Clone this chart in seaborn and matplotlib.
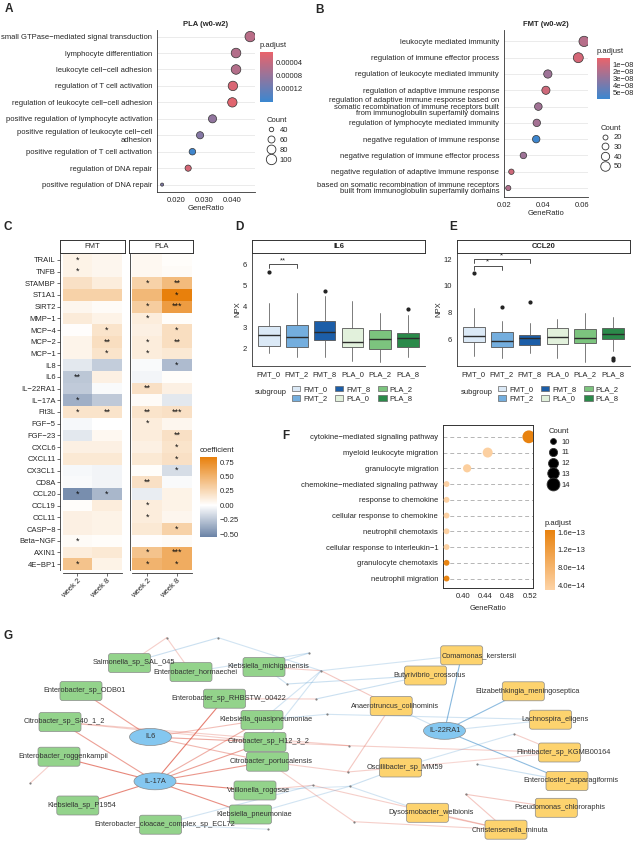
import numpy as np
import pandas as pd
import matplotlib
matplotlib.use("Agg")
import matplotlib.pyplot as plt
from matplotlib.colors import LinearSegmentedColormap, Normalize
from matplotlib.cm import ScalarMappable
from matplotlib.lines import Line2D
from matplotlib.patches import FancyBboxPatch, Ellipse, Patch
import seaborn as sns

sns.set_theme(style="white")
plt.rcParams["font.family"] = ["Liberation Sans", "DejaVu Sans"]
plt.rcParams["font.size"] = 5.5
FS = 5.5
DARK = "#333333"

# ==========================================
# DATA
# ==========================================
# A - PLA (w0-w2)
a_terms = ["small GTPase\u2212mediated signal transduction", "lymphocyte differentiation",
           "leukocyte cell\u2212cell adhesion", "regulation of T cell activation",
           "regulation of leukocyte cell\u2212cell adhesion", "positive regulation of lymphocyte activation",
           "positive regulation of leukocyte cell\u2212cell\nadhesion", "positive regulation of T cell activation",
           "regulation of DNA repair", "positive regulation of DNA repair"]
a_ratio = [0.0463, 0.0413, 0.0413, 0.0402, 0.0400, 0.0330, 0.0286, 0.0259, 0.0244, 0.0152]
a_count = [101, 90, 90, 88, 87, 72, 62, 56, 53, 33]
a_padj = [5.0e-5, 5.5e-5, 5.5e-5, 2.2e-5, 1.5e-5, 8.5e-5, 9.5e-5, 1.55e-4, 2.5e-5, 1.0e-4]

# B - FMT (w0-w2)
b_terms = ["leukocyte mediated immunity", "regulation of immune effector process",
           "regulation of leukocyte mediated immunity", "regulation of adaptive immune response",
           "regulation of adaptive immune response based on\nsomatic recombination of immune receptors built\nfrom immunoglobulin superfamily domains",
           "regulation of lymphocyte mediated immunity", "negative regulation of immune response",
           "negative regulation of immune effector process", "negative regulation of adaptive immune response",
           "based on somatic recombination of immune receptors\nbuilt from immunoglobulin superfamily domains"]
b_ratio = [0.0612, 0.0582, 0.0425, 0.0415, 0.0376, 0.0368, 0.0365, 0.0299, 0.0237, 0.0221]
b_count = [57, 54, 40, 39, 35, 34, 34, 28, 22, 21]
b_padj = [1.8e-8, 0.8e-8, 2.6e-8, 1.0e-8, 2.5e-8, 2.4e-8, 5.8e-8, 2.6e-8, 1.0e-8, 2.0e-8]

# C - coefficient heatmap
hm_rows = ["TRAIL", "TNFB", "STAMBP", "ST1A1", "SIRT2", "MMP\u22121", "MCP\u22124", "MCP\u22122", "MCP\u22121",
           "IL8", "IL6", "IL\u221222RA1", "IL\u221217A", "Flt3L", "FGF\u22125", "FGF\u221223", "CXCL6", "CXCL11",
           "CX3CL1", "CD8A", "CCL20", "CCL19", "CCL11", "CASP\u22128", "Beta\u2212NGF", "AXIN1", "4E\u2212BP1"]
weeks = ["week 2", "week 8"]
fmt_w2 = [0.08, 0.08, 0.20, 0.30, 0.06, 0.13, 0.01, 0.07, 0.07, -0.10, -0.25, -0.23, -0.35, 0.18, -0.03,
          -0.10, 0.10, 0.15, -0.03, -0.02, -0.50, 0.02, 0.10, 0.10, 0.03, 0.12, 0.40]
fmt_w8 = [0.06, 0.06, 0.12, 0.30, 0.03, 0.08, 0.18, 0.22, 0.18, -0.22, 0.10, -0.02, -0.24, 0.18, 0.00,
          0.05, 0.10, 0.15, -0.05, -0.05, -0.32, 0.12, 0.08, 0.08, 0.02, 0.15, 0.08]
pla_w2 = [0.05, 0.05, 0.30, 0.47, 0.33, 0.12, 0.10, 0.12, 0.12, -0.02, -0.04, 0.20, 0.03, 0.18, 0.12,
          0.12, 0.10, 0.15, 0.02, 0.20, -0.08, 0.12, 0.12, 0.15, 0.01, 0.40, 0.50]
pla_w8 = [0.02, 0.03, 0.45, 0.85, 0.65, 0.02, 0.22, 0.22, 0.15, -0.30, 0.02, 0.10, -0.10, 0.20, 0.06,
          0.20, 0.18, 0.20, -0.15, -0.02, 0.08, 0.08, 0.06, 0.30, 0.03, 0.55, 0.55]
fmt_w2_sig = ["*", "*", "", "", "", "", "", "", "", "", "**", "", "*", "*", "", "", "", "", "", "", "*",
              "", "", "", "*", "", "*"]
fmt_w8_sig = ["", "", "", "", "", "", "*", "**", "*", "", "", "", "", "**", "", "", "", "", "", "", "*",
              "", "", "", "", "", ""]
pla_w2_sig = ["", "", "*", "", "*", "*", "", "*", "*", "", "", "**", "", "**", "*", "", "", "", "", "**", "",
              "*", "*", "", "", "*", "*"]
pla_w8_sig = ["", "", "**", "*", "***", "", "*", "**", "", "*", "", "", "", "***", "", "**", "*", "*", "*",
              "", "", "", "", "*", "", "***", "*"]

# D / E - boxplots
subgroups = ["FMT_0", "FMT_2", "FMT_8", "PLA_0", "PLA_2", "PLA_8"]
box_colors = ["#dbe9f6", "#74aede", "#1c5ea8", "#e2f1dc", "#7cc47e", "#2b8a4a"]
il6_q1 = [2.15, 2.10, 2.43, 2.08, 2.00, 2.08]
il6_med = [2.68, 2.58, 2.80, 2.32, 2.47, 2.50]
il6_q3 = [3.10, 3.12, 3.33, 3.00, 2.92, 2.78]
il6_lo = [1.80, 1.60, 1.60, 1.45, 1.40, 1.60]
il6_hi = [4.20, 4.65, 4.50, 4.30, 3.73, 3.60]
il6_out = [[5.65], [], [4.75], [], [], [3.90]]
ccl20_q1 = [5.88, 5.46, 5.63, 5.68, 5.80, 6.07]
ccl20_med = [6.30, 5.93, 6.15, 6.25, 6.12, 6.42]
ccl20_q3 = [6.98, 6.57, 6.37, 6.86, 6.79, 6.86]
ccl20_lo = [4.84, 4.70, 5.00, 4.64, 4.40, 5.19]
ccl20_hi = [8.35, 7.40, 7.23, 7.55, 7.98, 7.68]
ccl20_out = [[11.0], [8.47], [8.85], [], [], [4.64, 4.55]]

# F - enrichment
f_terms = ["cytokine\u2212mediated signaling pathway", "myeloid leukocyte migration", "granulocyte migration",
           "chemokine\u2212mediated signaling pathway", "response to chemokine", "cellular response to chemokine",
           "neutrophil chemotaxis", "cellular response to interleukin\u22121", "granulocyte chemotaxis",
           "neutrophil migration"]
f_count = [14, 12, 11, 10, 10, 10, 10, 10, 10, 10]
f_ratio = [c / 27 for c in f_count]
f_padj = [1.65e-13, 3.4e-14, 3.6e-14, 3.2e-14, 3.2e-14, 3.2e-14, 3.2e-14, 3.3e-14, 1.6e-13, 1.6e-13]

# G - network
net_nodes = ["IL6", "IL-17A", "IL-22RA1",
             "Salmonella_sp_SAL_045", "Enterobacter_hormaechei", "Klebsiella_michiganensis",
             "Enterobacter_sp_ODB01", "Enterobacter_sp_RHBSTW_00422", "Citrobacter_sp_S40_1_2",
             "Klebsiella_quasipneumoniae", "Citrobacter_sp_H12_3_2", "Enterobacter_roggenkampii",
             "Citrobacter_portucalensis", "Veillonella_rogosae", "Klebsiella_sp_P1954",
             "Klebsiella_pneumoniae", "Enterobacter_cloacae_complex_sp_ECL72",
             "Comamonas_kerstersii", "Butyrivibrio_crossotus", "Elizabethkingia_meningoseptica",
             "Anaerotruncus_colihominis", "Lachnospira_eligens", "Flintibacter_sp_KGMB00164",
             "Oscillibacter_sp_MM59", "Enterocloster_asparagiformis", "Pseudomonas_chlororaphis",
             "Dysosmobacter_welbionis", "Christensenella_minuta",
             "d1", "d2", "d3", "d4", "d5", "d6", "d7", "d8", "d9", "d10", "d11", "d12", "d13", "d14",
             "d15", "d16", "d17"]
net_x = [150.5, 155, 444.5,
         129.5, 191, 264, 81, 224.5, 60, 262, 265, 59, 267.5, 255, 77.8, 250.5, 160.5,
         461.7, 425.5, 523.3, 391.2, 550.5, 559.5, 400.5, 567, 556.3, 427.5, 506,
         166.7, 218.3, 309.3, 287, 316, 30, 312.5, 268.3, 321, 326.7, 349, 347.5, 349.5, 354,
         514.3, 477.3, 465.7]
net_y = [737, 781.3, 730.8,
         663, 672, 667, 691, 698.7, 722, 720, 742, 756.7, 761.7, 790.5, 805.5, 814.5, 824.7,
         655.3, 675.5, 691.3, 706, 719.7, 752.5, 767.5, 781, 807.8, 812.8, 829.7,
         637.7, 637.7, 653, 684, 699, 783.3, 785.3, 829.2, 670.7, 714.3, 745.7, 772, 786.3, 821.7,
         734, 764.3, 794.3]
net_kind = ["cyto"] * 3 + ["green"] * 14 + ["yellow"] * 11 + ["dot"] * 17
net_label_dx = [0, 0, 0] + [4] * 14 + [17] + [4] * 10 + [0] * 17
net_edges = [
    ("IL-17A", "Enterobacter_roggenkampii", "r", 0.75), ("IL-17A", "Citrobacter_sp_S40_1_2", "r", 0.6),
    ("IL-17A", "Klebsiella_sp_P1954", "r", 0.75), ("IL-17A", "Enterobacter_sp_RHBSTW_00422", "r", 0.8),
    ("IL-17A", "Klebsiella_quasipneumoniae", "r", 0.5), ("IL-17A", "Citrobacter_sp_H12_3_2", "r", 0.6),
    ("IL-17A", "Citrobacter_portucalensis", "r", 0.65), ("IL-17A", "Veillonella_rogosae", "r", 0.75),
    ("IL-17A", "Klebsiella_pneumoniae", "r", 0.7),
    ("IL6", "Enterobacter_sp_ODB01", "r", 0.6), ("IL6", "Klebsiella_quasipneumoniae", "r", 0.4),
    ("IL6", "Citrobacter_sp_H12_3_2", "r", 0.55), ("IL6", "Citrobacter_portucalensis", "r", 0.45),
    ("IL-22RA1", "Comamonas_kerstersii", "b", 0.8), ("IL-22RA1", "Elizabethkingia_meningoseptica", "b", 0.75),
    ("IL-22RA1", "Enterocloster_asparagiformis", "b", 0.75), ("IL-22RA1", "Lachnospira_eligens", "b", 0.3),
    ("IL-22RA1", "Anaerotruncus_colihominis", "b", 0.3),
    ("Citrobacter_sp_S40_1_2", "d11", "r", 0.3), ("Citrobacter_sp_S40_1_2", "Citrobacter_sp_H12_3_2", "r", 0.3),
    ("Enterobacter_roggenkampii", "d6", "r", 0.3), ("Salmonella_sp_SAL_045", "d1", "r", 0.3),
    ("d1", "Enterobacter_hormaechei", "r", 0.3), ("Salmonella_sp_SAL_045", "d2", "b", 0.35),
    ("d2", "d9", "b", 0.3), ("Enterobacter_hormaechei", "d3", "b", 0.3),
    ("Klebsiella_michiganensis", "d3", "b", 0.3), ("Klebsiella_michiganensis", "d9", "r", 0.3),
    ("Klebsiella_michiganensis", "d4", "b", 0.3), ("d4", "Butyrivibrio_crossotus", "b", 0.35),
    ("Enterobacter_sp_RHBSTW_00422", "d5", "r", 0.3), ("d5", "Butyrivibrio_crossotus", "b", 0.35),
    ("d9", "Anaerotruncus_colihominis", "r", 0.35), ("d9", "Comamonas_kerstersii", "b", 0.3),
    ("Klebsiella_quasipneumoniae", "d9", "b", 0.3), ("Citrobacter_sp_H12_3_2", "d9", "b", 0.3),
    ("Klebsiella_quasipneumoniae", "d10", "b", 0.3), ("d10", "Lachnospira_eligens", "b", 0.3),
    ("Citrobacter_sp_H12_3_2", "d11", "r", 0.3), ("d11", "Flintibacter_sp_KGMB00164", "r", 0.3),
    ("Citrobacter_portucalensis", "d12", "r", 0.3), ("d12", "Anaerotruncus_colihominis", "r", 0.35),
    ("d12", "Oscillibacter_sp_MM59", "r", 0.3), ("Oscillibacter_sp_MM59", "Flintibacter_sp_KGMB00164", "r", 0.25),
    ("Oscillibacter_sp_MM59", "d15", "b", 0.3), ("d15", "Flintibacter_sp_KGMB00164", "r", 0.3),
    ("Veillonella_rogosae", "d7", "r", 0.3), ("d7", "Christensenella_minuta", "r", 0.3),
    ("d13", "Oscillibacter_sp_MM59", "b", 0.35), ("Klebsiella_pneumoniae", "d13", "b", 0.3),
    ("d13", "Dysosmobacter_welbionis", "b", 0.3), ("Citrobacter_portucalensis", "d14", "r", 0.3),
    ("d14", "Christensenella_minuta", "r", 0.3), ("Dysosmobacter_welbionis", "Christensenella_minuta", "r", 0.35),
    ("d16", "Enterocloster_asparagiformis", "b", 0.35), ("d17", "Pseudomonas_chlororaphis", "r", 0.35),
    ("d17", "Christensenella_minuta", "r", 0.35), ("Enterobacter_cloacae_complex_sp_ECL72", "d7", "b", 0.3),
    ("Enterobacter_cloacae_complex_sp_ECL72", "d8", "b", 0.25), ("Veillonella_rogosae", "d13", "b", 0.25),
]

# ==========================================
# FIGURE HELPERS (pixel based layout)
# ==========================================
W, H = 633, 841
fig = plt.figure(figsize=(W / 100, H / 100), dpi=100)


def px_axes(l, t, r, b):
    return fig.add_axes([l / W, 1 - b / H, (r - l) / W, (b - t) / H])


def panel_label(x, y, s):
    fig.text(x / W, 1 - y / H, s, fontsize=8.5, fontweight="bold", ha="center", va="center")


def colorbar(rect, cmap, norm, ticks, labels, title, reverse):
    cax = px_axes(*rect)
    cb = fig.colorbar(ScalarMappable(norm=norm, cmap=cmap), cax=cax)
    cb.outline.set_visible(False)
    cb.set_ticks(ticks, labels=labels)
    cax.tick_params(length=0, labelsize=FS, pad=2)
    if reverse:
        cax.invert_yaxis()
    fig.text(rect[0] / W, 1 - (rect[1] - 3) / H, title, fontsize=FS, va="bottom")


def size_legend(values, sizes, snorm, x, y, face="white", spacing=0.35):
    lo, hi = snorm
    handles = []
    for v in values:
        s = sizes[0] + (v - lo) / (hi - lo) * (sizes[1] - sizes[0])
        handles.append(Line2D([], [], ls="", marker="o", markersize=np.sqrt(s),
                              mfc=face, mec=DARK, mew=0.6))
    fig.legend(handles, [str(v) for v in values], title="Count", loc="upper left",
               bbox_to_anchor=(x / W, 1 - y / H), frameon=False, fontsize=FS, title_fontsize=FS,
               borderpad=0, labelspacing=spacing, handletextpad=0.5, alignment="left",
               handlelength=1.2)


def dot_panel(ax, terms, ratio, count, padj, cmap, cnorm, sizes, snorm, edge=DARK):
    df = pd.DataFrame({"term": terms, "GeneRatio": ratio, "Count": count, "p.adjust": padj})
    df["row"] = np.arange(len(df))
    sns.scatterplot(data=df, x="GeneRatio", y="row", hue="p.adjust", size="Count",
                    palette=cmap, hue_norm=cnorm, sizes=sizes, size_norm=snorm,
                    edgecolor=edge, linewidth=0.5, legend=False, ax=ax, zorder=3)
    ax.set_yticks(df["row"], df["term"])
    ax.set_ylabel("")
    ax.tick_params(axis="both", labelsize=FS, length=2, width=0.5, color=DARK, pad=1.5)
    ax.set_xlabel("GeneRatio", fontsize=FS, labelpad=1)
    return df


def classic(ax):
    for s in ["top", "right"]:
        ax.spines[s].set_visible(False)
    for s in ["left", "bottom"]:
        ax.spines[s].set_color(DARK)
        ax.spines[s].set_linewidth(0.6)


# ==========================================
# A
# ==========================================
rb_cmap = LinearSegmentedColormap.from_list("rb", ["#e9636b", "#3b87d0"])
ax_a = px_axes(157, 30, 255, 192)
a_norm = Normalize(8e-6, 1.6e-4)
dot_panel(ax_a, a_terms, a_ratio, a_count, a_padj, rb_cmap, a_norm, (5, 56), (33, 101))
for r in range(len(a_terms)):
    ax_a.axhline(r, color="#ebebeb", lw=0.7, zorder=0)
ax_a.set_xlim(0.0134, 0.048)
ax_a.set_ylim(9.45, -0.4)
ax_a.set_xticks([0.02, 0.03, 0.04], ["0.020", "0.030", "0.040"])
ax_a.set_title("PLA (w0-w2)", fontsize=FS, fontweight="bold", pad=3)
classic(ax_a)
colorbar((260, 52, 273, 102), rb_cmap, a_norm, [4e-5, 8e-5, 1.2e-4],
         ["0.00004", "0.00008", "0.00012"], "p.adjust", True)
size_legend([40, 60, 80, 100], (5, 56), (33, 101), 263, 113)

# ==========================================
# B
# ==========================================
ax_b = px_axes(504, 30, 588, 197)
b_norm = Normalize(1e-9, 5.9e-8)
dot_panel(ax_b, b_terms, b_ratio, b_count, b_padj, rb_cmap, b_norm, (14, 55), (21, 57))
for r in range(len(b_terms)):
    ax_b.axhline(r, color="#ebebeb", lw=0.7, zorder=0)
ax_b.set_xlim(0.0199, 0.0632)
ax_b.set_ylim(9.55, -0.7)
ax_b.set_xticks([0.02, 0.04, 0.06], ["0.02", "0.04", "0.06"])
ax_b.set_title("FMT (w0-w2)", fontsize=FS, fontweight="bold", pad=3)
for lab in ax_b.get_yticklabels():
    lab.set_linespacing(0.85)
classic(ax_b)
colorbar((597, 58, 610, 99), rb_cmap, b_norm, [1e-8, 2e-8, 3e-8, 4e-8, 5e-8],
         ["1e\u221208", "2e\u221208", "3e\u221208", "4e\u221208", "5e\u221208"], "p.adjust", True)
size_legend([20, 30, 40, 50], (14, 55), (21, 57), 597, 121, spacing=0.3)

# ==========================================
# C
# ==========================================
coef_cmap = LinearSegmentedColormap.from_list(
    "coef", [(0, "#6b83a6"), (0.396, "#ffffff"), (1, "#e8800c")])
vmin, vmax = -0.55, 0.84
facets = [("FMT", fmt_w2, fmt_w8, fmt_w2_sig, fmt_w8_sig, 62.7, 121.7, 60, 125),
          ("PLA", pla_w2, pla_w8, pla_w2_sig, pla_w8_sig, 132.3, 191.7, 129.3, 193.3)]
for i, (name, w2, w8, s2, s8, l, r, sl, sr) in enumerate(facets):
    ax = px_axes(l, 254, r, 570)
    vals = pd.DataFrame({weeks[0]: w2, weeks[1]: w8}, index=hm_rows)
    stars = np.array([s2, s8]).T
    sns.heatmap(vals, cmap=coef_cmap, vmin=vmin, vmax=vmax, annot=stars, fmt="", cbar=False,
                xticklabels=True, yticklabels=(i == 0), ax=ax,
                annot_kws={"size": 6.5, "color": "#111111"})
    for s in ["left", "bottom"]:
        ax.spines[s].set_visible(True)
        ax.spines[s].set_color(DARK)
        ax.spines[s].set_linewidth(0.6)
        ax.spines[s].set_position(("outward", 2))
    ax.set_xticklabels(weeks, rotation=45, ha="right", rotation_mode="anchor", fontsize=FS)
    ax.tick_params(axis="x", length=2, width=0.5, color=DARK, pad=1, bottom=True)
    if i == 0:
        ax.set_yticklabels(hm_rows, rotation=0, fontsize=FS)
        ax.tick_params(axis="y", length=2, width=0.5, color=DARK, pad=1, left=True)
    else:
        ax.set_yticks([])
    ax.set_xlabel("")
    ax.set_ylabel("")
    st = px_axes(sl, 240, sr, 253)
    st.set_xticks([])
    st.set_yticks([])
    for sp in st.spines.values():
        sp.set_color(DARK)
        sp.set_linewidth(0.7)
    st.text(0.5, 0.5, name, ha="center", va="center", fontsize=FS, transform=st.transAxes)
colorbar((200, 457, 217, 537), coef_cmap, Normalize(vmin, vmax),
         [0.75, 0.5, 0.25, 0.0, -0.25, -0.5],
         ["0.75", "0.50", "0.25", "0.00", "\u22120.25", "\u22120.50"], "coefficient", False)


# ==========================================
# D / E  boxplots
# ==========================================
def box_panel(ax, q1, med, q3, lo, hi, out):
    stats = [dict(q1=a, med=m, q3=b, whislo=w0, whishi=w1, fliers=f)
             for a, m, b, w0, w1, f in zip(q1, med, q3, lo, hi, out)]
    bp = ax.bxp(stats, positions=range(len(stats)), widths=0.78, patch_artist=True, showcaps=False,
                boxprops=dict(edgecolor="#555555", linewidth=0.6),
                medianprops=dict(color="#2b2b2b", linewidth=1.0),
                whiskerprops=dict(color="#666666", linewidth=0.6),
                flierprops=dict(marker="o", markersize=2.0, markerfacecolor="#222222",
                                markeredgecolor="#222222"))
    for patch, c in zip(bp["boxes"], box_colors):
        patch.set_facecolor(c)
    ax.set_xticks(range(len(subgroups)), subgroups)
    ax.set_xlim(-0.6, 5.6)
    ax.tick_params(axis="both", labelsize=FS, length=2, width=0.5, color=DARK, pad=1.5)
    ax.set_ylabel("NPX", fontsize=FS, labelpad=1)
    classic(ax)


def bracket(ax, x1, x2, y, h, label):
    ax.plot([x1, x1, x2, x2], [y - h, y, y, y - h], color=DARK, lw=0.6)
    ax.text((x1 + x2) / 2, y, label, ha="center", va="bottom", fontsize=FS)


def strip(l, r, title):
    st = px_axes(l, 240, r, 253)
    st.set_xticks([])
    st.set_yticks([])
    for sp in st.spines.values():
        sp.set_color(DARK)
        sp.set_linewidth(0.7)
    st.text(0.5, 0.5, title, ha="center", va="center", fontsize=FS, fontweight="bold",
            transform=st.transAxes)


def box_legend(x_title, x_keys):
    fig.text(x_title / W, 1 - 392.5 / H, "subgroup", fontsize=FS, va="center")
    handles = [Patch(facecolor=c, edgecolor="#666666", linewidth=0.5) for c in box_colors]
    fig.legend(handles, subgroups, ncol=3, loc="upper left", bbox_to_anchor=(x_keys / W, 1 - 382 / H),
               frameon=False, fontsize=FS, borderpad=0, labelspacing=0.25, handlelength=1.1,
               handleheight=0.75, handletextpad=0.4, columnspacing=1.0)


ax_d = px_axes(252, 253, 425, 366)
box_panel(ax_d, il6_q1, il6_med, il6_q3, il6_lo, il6_hi, il6_out)
ax_d.set_ylim(1.19, 6.57)
ax_d.set_yticks([2, 3, 4, 5, 6])
bracket(ax_d, 0, 1, 6.05, 0.2, "**")
strip(252, 425, "IL6")
box_legend(255, 288)

ax_e = px_axes(457, 252, 630, 366)
box_panel(ax_e, ccl20_q1, ccl20_med, ccl20_q3, ccl20_lo, ccl20_hi, ccl20_out)
ax_e.set_ylim(4.07, 12.52)
ax_e.set_yticks([6, 8, 10, 12])
bracket(ax_e, 0, 1, 11.5, 0.3, "*")
bracket(ax_e, 0, 2, 12.0, 0.3, "*")
strip(457, 630, "CCL20")
box_legend(461, 494)

# ==========================================
# F
# ==========================================
or_cmap = LinearSegmentedColormap.from_list("or", ["#fdd3a6", "#e8820e"])
f_norm = Normalize(2.9e-14, 1.65e-13)
ax_f = px_axes(443, 425, 533, 588)
dot_panel(ax_f, f_terms, f_ratio, f_count, f_padj, or_cmap, f_norm, (18, 85), (10, 14), edge="none")
for r in range(len(f_terms)):
    ax_f.axhline(r, color="#b5b5b5", lw=0.7, ls=(0, (4, 3)), zorder=0)
ax_f.set_xlim(0.364, 0.526)
ax_f.set_ylim(9.6, -0.75)
ax_f.set_xticks([0.40, 0.44, 0.48, 0.52], ["0.40", "0.44", "0.48", "0.52"])
ax_f.xaxis.labelpad = 4
for sp in ax_f.spines.values():
    sp.set_color(DARK)
    sp.set_linewidth(0.7)
size_legend([10, 11, 12, 13, 14], (18, 85), (10, 14), 545, 424, face="black", spacing=0.45)
colorbar((545, 530, 555, 590), or_cmap, f_norm, [1.6e-13, 1.2e-13, 8.0e-14, 4.0e-14],
         ["1.6e\u221213", "1.2e\u221213", "8.0e\u221214", "4.0e\u221214"], "p.adjust", False)

# ==========================================
# G  network
# ==========================================
ax_g = px_axes(0, 630, 633, 841)
ax_g.set_xlim(0, W)
ax_g.set_ylim(841, 630)
ax_g.axis("off")
pos = {n: (x, y) for n, x, y in zip(net_nodes, net_x, net_y)}
edge_col = {"r": "#e0604f", "b": "#6aa7d6"}
for src, dst, sign, alpha in net_edges:
    (x0, y0), (x1, y1) = pos[src], pos[dst]
    ax_g.plot([x0, x1], [y0, y1], color=edge_col[sign], alpha=alpha, lw=0.8, zorder=1)

node_fill = {"green": "#93d38b", "yellow": "#fdd36e"}
for n, x, y, kind, dx in zip(net_nodes, net_x, net_y, net_kind, net_label_dx):
    if kind == "dot":
        ax_g.scatter([x], [y], s=2.5, color="#808080", zorder=2, linewidths=0)
    elif kind == "cyto":
        ax_g.add_patch(Ellipse((x, y), 42, 17, facecolor="#84c7f0", edgecolor="#8a8a8a", lw=0.5, zorder=3))
        ax_g.text(x, y, n, ha="center", va="center", fontsize=5.3, color=DARK, zorder=5)
    else:
        ax_g.add_patch(FancyBboxPatch((x - 21, y - 9.5), 42, 19, boxstyle="round,pad=0,rounding_size=2.5",
                                      facecolor=node_fill[kind], edgecolor="#8a8a8a", lw=0.5, zorder=3))
        ax_g.text(x + dx, y, n, ha="center", va="center", fontsize=5.3, color=DARK, zorder=5)

# panel letters
panel_label(9, 9, "A")
panel_label(320, 10, "B")
panel_label(8, 227, "C")
panel_label(239, 227, "D")
panel_label(453, 227, "E")
panel_label(286, 436, "F")
panel_label(8, 636, "G")

fig.savefig("out.png", dpi=100, facecolor="white")
